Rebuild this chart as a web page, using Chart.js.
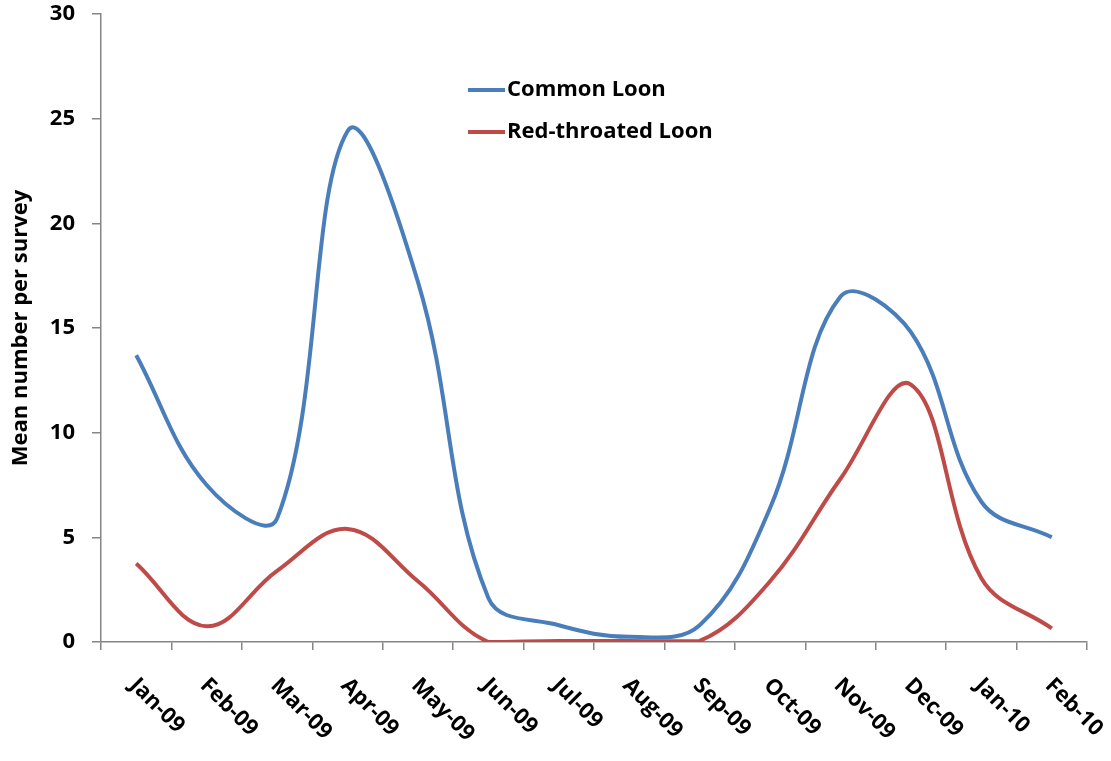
<!DOCTYPE html>
<html>
<head>
<meta charset="utf-8">
<script src="https://cdn.jsdelivr.net/npm/chart.js@4.4.0/dist/chart.umd.min.js"></script>
<style>
  html, body { margin: 0; padding: 0; background: #fff; }
</style>
</head>
<body>
<canvas id="grafico" width="1111" height="761"></canvas>
<script>
const meses = ["Jan-09", "Feb-09", "Mar-09", "Apr-09", "May-09", "Jun-09", "Jul-09",
  "Aug-09", "Sep-09", "Oct-09", "Nov-09", "Dec-09", "Jan-10", "Feb-10"];
const commonLoon = [13.7, 7.5, 5.9, 24.4, 17.2, 2.1, 0.8, 0.25, 0.8, 6.4, 16.5, 14.8, 6.7, 5.0];
const redThroatedLoon = [3.75, 0.75, 3.4, 5.4, 2.9, 0.0, 0.05, 0.05, 0.05, 2.9, 7.8, 12.3, 3.05, 0.65];
const yMin = 0;
const yMax = 30;
const yStep = 5;

const fuente = "'Open Sans', 'DejaVu Sans', sans-serif";
const gris = "#868686";

// etiquetas del eje x giradas hacia abajo (como en Excel)
const etiquetasX = {
  id: "etiquetasX",
  afterDraw(chart) {
    const ctx = chart.ctx;
    const x = chart.scales.x;
    const area = chart.chartArea;
    ctx.save();
    ctx.font = "bold 22px " + fuente;
    ctx.fillStyle = "#000";
    ctx.textAlign = "left";
    ctx.textBaseline = "middle";
    meses.forEach((m, i) => {
      const px = x.getPixelForValue(i);
      ctx.save();
      ctx.translate(px - 3, area.bottom + 40);
      ctx.rotate(Math.PI / 4);
      ctx.fillText(m, 0, 0);
      ctx.restore();
    });
    ctx.restore();
  },
};

// leyenda dentro del area del grafico
const leyenda = {
  id: "leyenda",
  afterDraw(chart) {
    const ctx = chart.ctx;
    ctx.save();
    ctx.font = "bold 22px " + fuente;
    ctx.textAlign = "left";
    ctx.textBaseline = "middle";
    chart.data.datasets.forEach((ds, i) => {
      const y = 90 + i * 42;
      ctx.strokeStyle = ds.borderColor;
      ctx.lineWidth = 4;
      ctx.beginPath();
      ctx.moveTo(468, y);
      ctx.lineTo(505, y);
      ctx.stroke();
      ctx.fillStyle = "#000";
      ctx.fillText(ds.label, 507, y);
    });
    ctx.restore();
  },
};

const ctx = document.getElementById("grafico").getContext("2d");

const miGrafico = new Chart(ctx, {
  type: "line",
  data: {
    labels: meses,
    datasets: [
      {
        label: "Common Loon",
        data: commonLoon,
        borderColor: "#4A7EBB",
        borderWidth: 4,
        pointRadius: 0,
        tension: 0.38,
      },
      {
        label: "Red-throated Loon",
        data: redThroatedLoon,
        borderColor: "#BE4B48",
        borderWidth: 4,
        pointRadius: 0,
        tension: 0.38,
      },
    ],
  },
  options: {
    responsive: false,
    animation: false,
    layout: {
      padding: { left: 0, right: 24, top: 14, bottom: 111 },
    },
    plugins: {
      legend: { display: false },
      tooltip: { enabled: false },
    },
    scales: {
      x: {
        offset: true,
        grid: {
          offset: true,
          drawOnChartArea: false,
          tickLength: 8,
          color: gris,
          lineWidth: 1.5,
        },
        border: { color: gris, width: 1.5 },
        ticks: { display: false },
      },
      y: {
        min: yMin,
        max: yMax,
        afterFit(scale) {
          scale.width = 101;
          scale.paddingTop = 0;
          scale.paddingBottom = 0;
        },
        grid: {
          drawOnChartArea: false,
          tickLength: 9,
          color: gris,
          lineWidth: 1.5,
        },
        border: { color: gris, width: 1.5 },
        ticks: {
          stepSize: yStep,
          padding: 17,
          color: "#000",
          font: { family: fuente, size: 22, weight: "bold" },
        },
        title: {
          display: true,
          text: "Mean number per survey",
          color: "#000",
          font: { family: fuente, size: 22, weight: "bold" },
          padding: { top: 8, bottom: 0 },
        },
      },
    },
  },
  plugins: [etiquetasX, leyenda],
});
</script>
</body>
</html>
